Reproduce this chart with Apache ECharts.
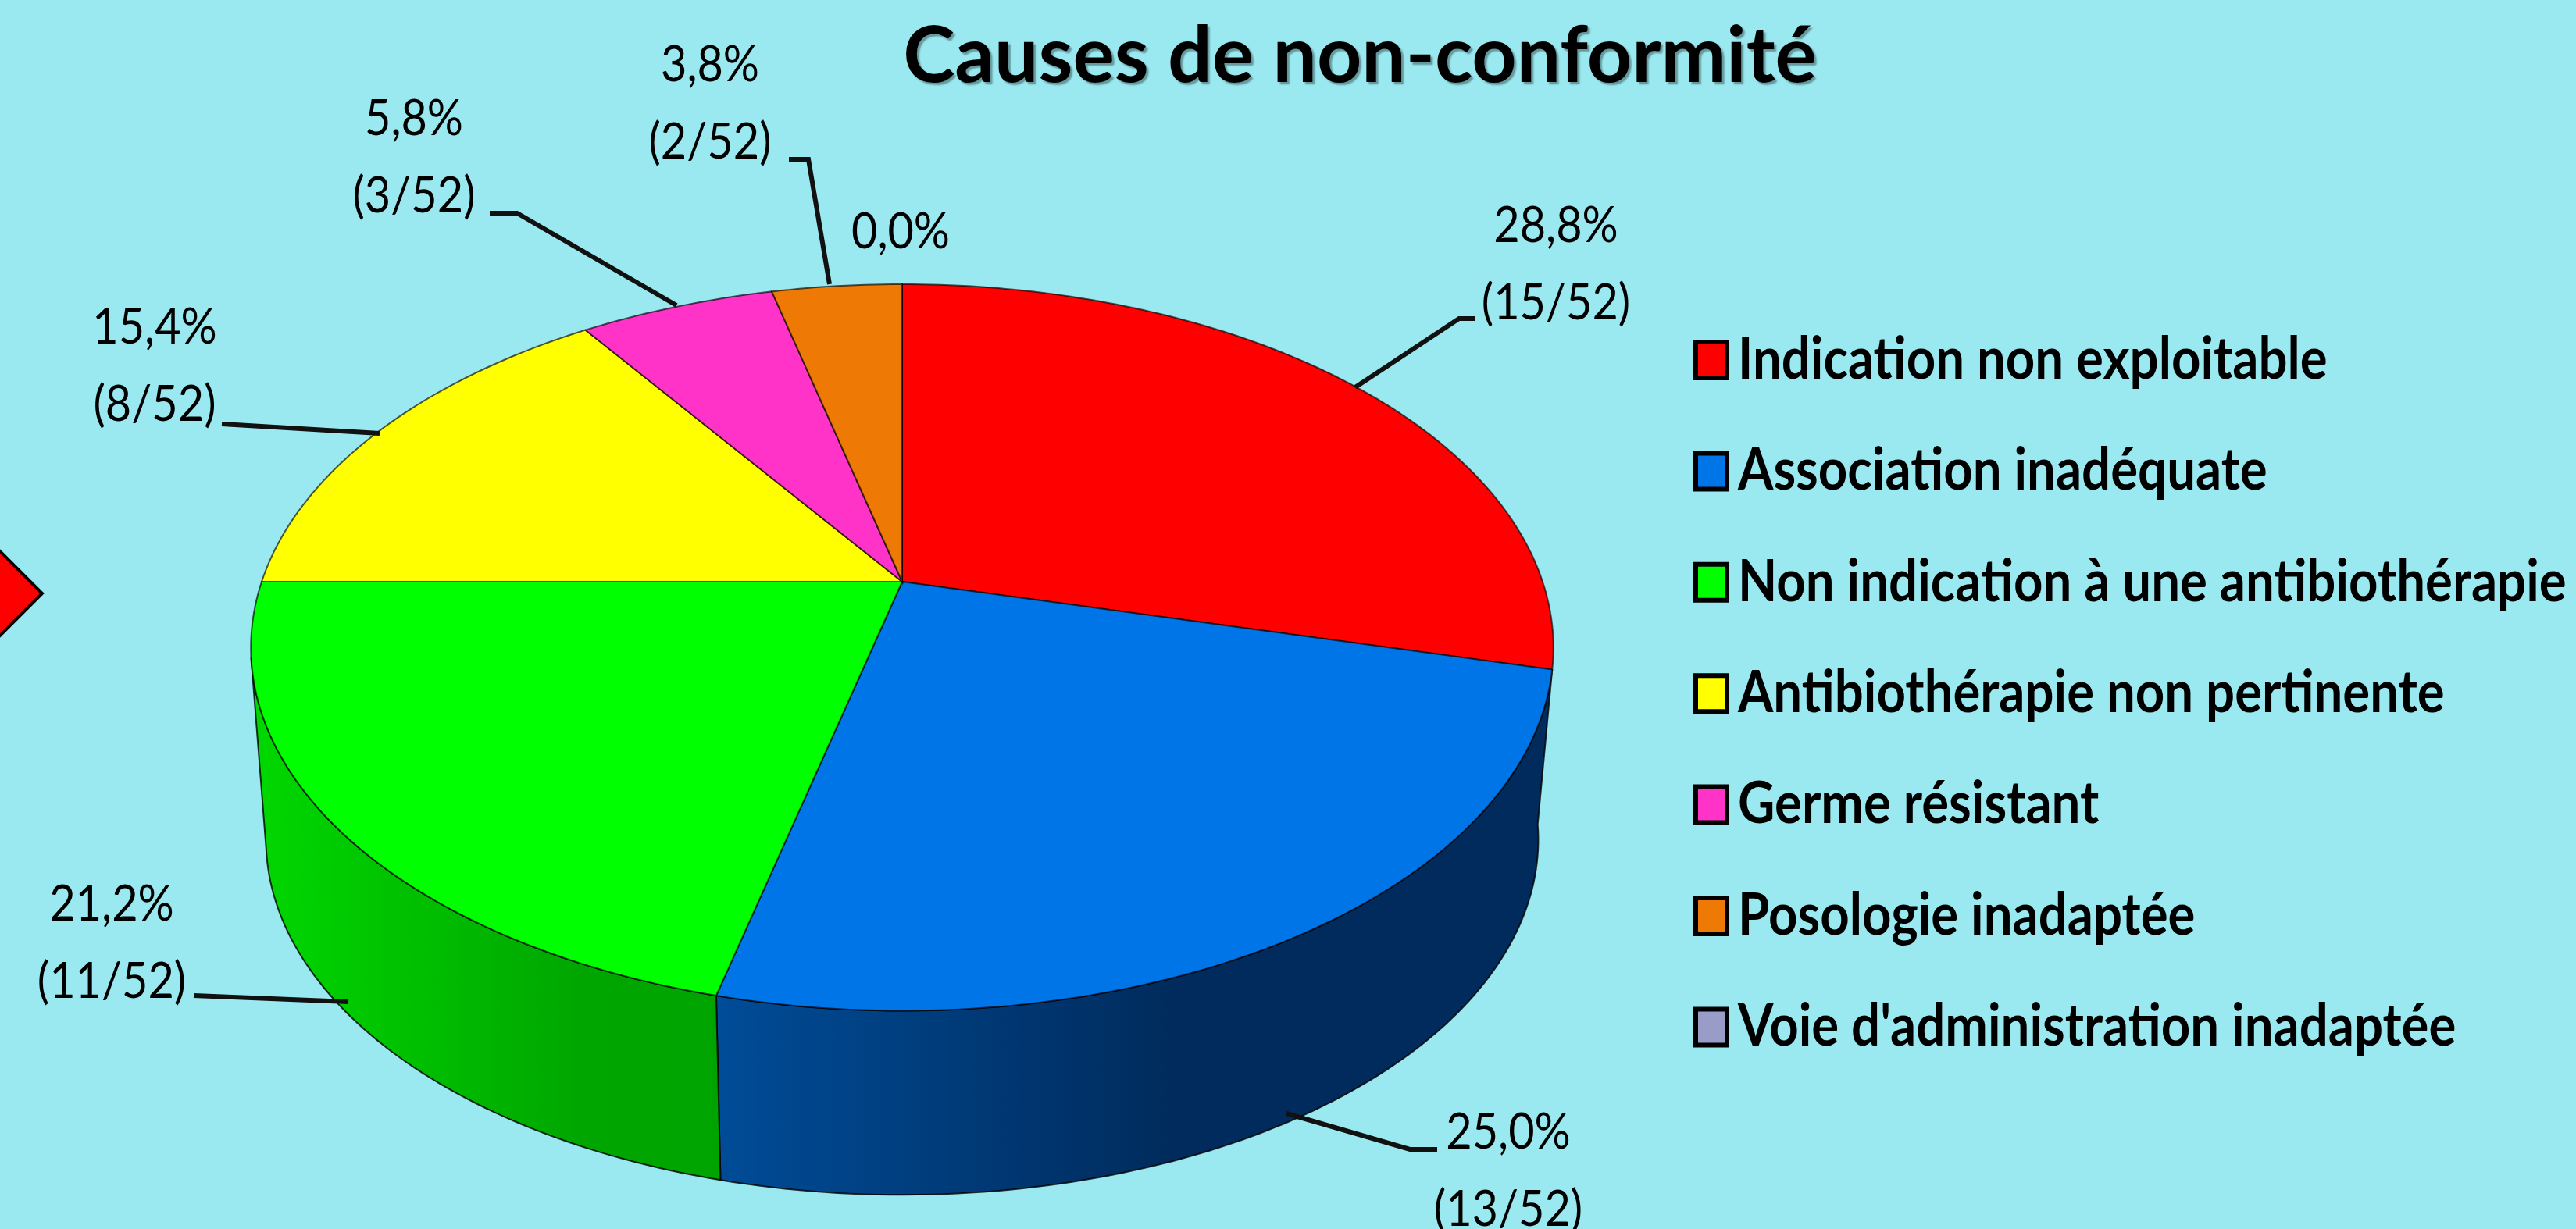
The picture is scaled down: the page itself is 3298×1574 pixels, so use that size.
<!DOCTYPE html>
<html lang="fr">
<head>
<meta charset="UTF-8">
<title>Causes de non-conformité</title>
<style>html,body{margin:0;padding:0;background:#9ae9f0}#main{width:3298px;height:1574px}</style>
</head>
<body>
<div id="main"></div>
<script src="https://cdn.jsdelivr.net/npm/echarts@6/dist/echarts.min.js"></script>
<script>
// data
var categories = ["Indication non exploitable", "Association inadéquate", "Non indication à une antibiothérapie",
    "Antibiothérapie non pertinente", "Germe résistant", "Posologie inadaptée", "Voie d'administration inadaptée"];
var counts = [15, 13, 11, 8, 3, 2, 0];
var total = 52;
var colors = ["#ff0000", "#0075e8", "#00ff00", "#ffff00", "#ff33c8", "#ee7a05", "#9a9cc8"];

// layout, pixels
var labelPos = [[1992, 290], [1931, 1451], [143, 1159], [198, 420], [530, 153], [909, 84], [1153, 297]];
var leaders = [
    [[1735, 496], [1868, 408], [1889, 408]],
    [[1647, 1426], [1805, 1472], [1840, 1472]],
    [[446, 1283], [248, 1275]],
    [[486, 555], [284, 543]],
    [[866, 391], [662, 273], [627, 273]],
    [[1062, 364], [1035, 204], [1010, 204]],
    null
];
var wallFill = {
    1: [[0, "#004c98"], [0.55, "#002b5c"], [1, "#002b5c"]],
    2: [[0, "#00d800"], [0.7, "#00a600"], [1, "#00a400"]]
};
var FONT = "Lato";
var topRim = {cx: 1155, cy: 745, a: 820, b: 450};
var lowRim = {cx: 1155, cy: 993, a: 801, b: 440};
var PERSP = 0.181;
// where the side wall outline leaves the rims
var WALL_RIGHT = 98, WALL_LEFT = 258;
var LEGEND_X = 2225, LEGEND_Y = 461, LEGEND_STEP = 142.4;

// perspective view of a circle, angle clockwise from 12 o'clock
function project(rim, deg) {
    var t = deg * Math.PI / 180, u = Math.sin(t), v = Math.cos(t), w = 1 + PERSP * v;
    return [rim.cx + rim.a * u / w, rim.cy - rim.b * v / w];
}
function arc(rim, from, to) {
    var pts = [], n = Math.max(2, Math.ceil(Math.abs(to - from)));
    for (var i = 0; i <= n; i++) pts.push(project(rim, from + (to - from) * i / n));
    return pts;
}
function pctLabel(v) {
    return (v / total * 100).toFixed(1).replace(".", ",") + "%";
}

var startAngles = [];
var running = 0;
counts.forEach(function (c) { startAngles.push(running / total * 360); running += c; });

function makeRender(idx) {
    return function (params, api) {
        var v = api.value(0);
        var from = startAngles[idx], to = from + v / total * 360;
        var children = [];
        if (v > 0) {
            var wFrom = Math.max(from, WALL_RIGHT), wTo = Math.min(to, WALL_LEFT);
            if (wallFill[idx] && wTo > wFrom) {
                var stops = wallFill[idx].map(function (s) { return {offset: s[0], color: s[1]}; });
                // first wall slice reaches back to the tangent point on the lower rim
                var lowFrom = idx === 1 ? WALL_RIGHT : wFrom;
                children.push({
                    type: "polygon",
                    shape: {points: arc(topRim, wFrom, wTo).concat(arc(lowRim, wTo, lowFrom))},
                    style: {fill: new echarts.graphic.LinearGradient(0, 0, 1, 0, stops), stroke: "rgba(0,0,0,0.8)", lineWidth: 2}
                });
            }
            children.push({
                type: "polygon",
                shape: {points: [[topRim.cx, topRim.cy]].concat(arc(topRim, from, to))},
                style: {fill: colors[idx], stroke: "rgba(0,0,0,0.65)", lineWidth: 2}
            });
        }
        if (leaders[idx]) {
            children.push({type: "polyline", shape: {points: leaders[idx]},
                style: {fill: null, stroke: "#111", lineWidth: 6}});
        }
        var txt = v > 0 ? pctLabel(v) + "\n(" + v + "/" + total + ")" : pctLabel(v);
        children.push({
            type: "text",
            x: labelPos[idx][0],
            y: labelPos[idx][1] + (v > 0 ? -50 : 0),
            scaleX: 0.9,
            style: {text: txt, x: 0, y: 0, align: "center", verticalAlign: v > 0 ? "top" : "middle",
                fontFamily: FONT, fontSize: 64, lineHeight: 99, fill: "#000"}
        });
        // legend names are drawn here so they can be condensed like the original
        children.push({
            type: "text",
            x: LEGEND_X,
            y: LEGEND_Y + LEGEND_STEP * idx,
            scaleX: 0.883,
            style: {text: categories[idx], x: 0, y: 0, align: "left", verticalAlign: "middle",
                fontFamily: FONT, fontSize: 74, fontWeight: "bold", fill: "#000"}
        });
        return {type: "group", children: children};
    };
}

var chart = echarts.init(document.getElementById("main"));
var seriesList = categories.map(function (name, i) {
    return {
        name: name,
        type: "custom",
        coordinateSystem: "none",
        silent: true,
        clip: false,
        z: 2,
        itemStyle: {color: colors[i]},
        renderItem: makeRender(i),
        data: [[counts[i]]]
    };
});

chart.setOption({
    backgroundColor: "#9ae9f0",
    animation: false,
    title: {
        text: "Causes de non-conformité",
        left: 1736,
        top: 18,
        textAlign: "center",
        textStyle: {fontFamily: FONT, fontSize: 100, fontWeight: "bold", color: "#000",
            textShadowColor: "rgba(0,0,0,0.35)", textShadowBlur: 2, textShadowOffsetX: 3, textShadowOffsetY: 3}
    },
    legend: {
        orient: "vertical",
        left: 2168,
        top: 435,
        padding: 0,
        itemWidth: 40,
        itemHeight: 46,
        itemGap: 90.4,
        icon: "rect",
        selectedMode: false,
        data: categories,
        formatter: function () { return " "; },
        itemStyle: {borderColor: "#000", borderWidth: 6},
        textStyle: {fontSize: 10, color: "#000"}
    },
    graphic: [{
        type: "polygon",
        silent: true,
        shape: {points: [[-6, 700], [54, 760], [-6, 820]]},
        style: {fill: "#ff0000", stroke: "#000", lineWidth: 4}
    }],
    series: seriesList
});
</script>
</body>
</html>
